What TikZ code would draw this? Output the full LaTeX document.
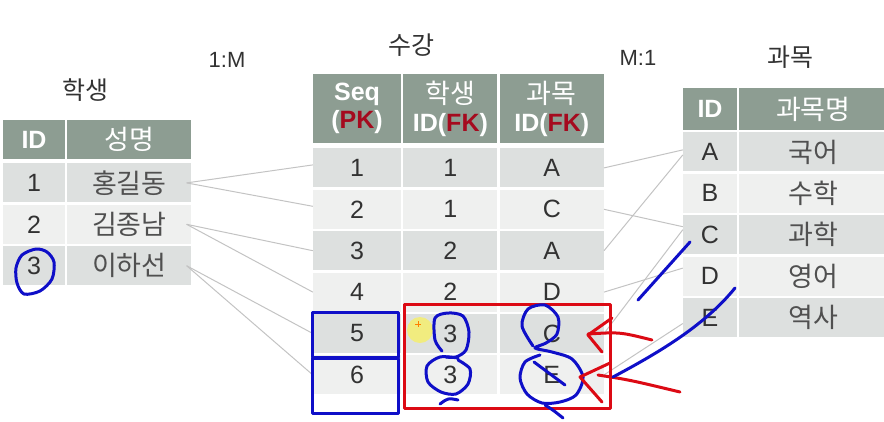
\documentclass[tikz,border=0pt]{standalone}
\usepackage{fontspec}
\setmainfont{Liberation Sans}
\newfontfamily\kr{Noto Sans CJK KR}
\usetikzlibrary{positioning}
\definecolor{hdgray}{RGB}{141,157,146}
\definecolor{rowdark}{RGB}{221,224,223}
\definecolor{rowlight}{RGB}{239,240,239}
\definecolor{txtgray}{RGB}{50,50,50}
\definecolor{krgray}{RGB}{80,80,80}
\definecolor{linegray}{RGB}{195,195,195}
\definecolor{pkred}{RGB}{165,10,30}
\definecolor{penblue}{RGB}{15,15,200}
\definecolor{penred}{RGB}{220,10,20}
\tikzstyle{cell} = [rectangle, inner sep=0pt, text centered, text=txtgray, font=\fontsize{25}{28}\selectfont]
\tikzstyle{hd} = [cell, fill=hdgray, text=white, align=center, font=\fontsize{25}{28}\selectfont\bfseries]
\tikzstyle{dk} = [cell, fill=rowdark]
\tikzstyle{lt} = [cell, fill=rowlight]
\tikzstyle{title} = [text=txtgray, font=\kr\fontsize{25}{28}\selectfont]
\tikzstyle{ratio} = [text=txtgray, font=\fontsize{22}{24}\selectfont]
\tikzstyle{link} = [draw=linegray, line width=1pt]
\tikzstyle{pen} = [line width=3pt, line cap=round, line join=round]
\newcommand{\hangul}[1]{{\kr\mdseries\fontsize{27}{28}\selectfont #1}}

\begin{document}
\begin{tikzpicture}[x=1pt, y=-1pt]
\useasboundingbox (0,0) rectangle (884,421);

% 학생 table
\node (ttlstu) [title] at (85,90) {학생};
\node (sid) [hd, minimum width=62, minimum height=39] at (34,139.5) {ID};
\node (sname) [hd, minimum width=124, minimum height=39, right=2pt of sid] {\hangul{성명}};
\node (s1) [dk, minimum width=62, minimum height=39, below=4pt of sid] {1};
\node (s1n) [dk, minimum width=124, minimum height=39, right=2pt of s1, text=krgray] {\hangul{홍길동}};
\node (s2) [lt, minimum width=62, minimum height=39, below=2pt of s1] {2};
\node (s2n) [lt, minimum width=124, minimum height=39, right=2pt of s2, text=krgray] {\hangul{김종남}};
\node (s3) [dk, minimum width=62, minimum height=39, below=2pt of s2] {3};
\node (s3n) [dk, minimum width=124, minimum height=39, right=2pt of s3, text=krgray] {\hangul{이하선}};

% 수강 table
\node (ttlenr) [title] at (411,45) {수강};
\node (eseq) [hd, minimum width=88, minimum height=69] at (357,108.5) {Seq\\(\textcolor{pkred}{PK})};
\node (estu) [hd, minimum width=94, minimum height=69, right=2pt of eseq] {\hangul{학생}\\ID(\textcolor{pkred}{FK})};
\node (esub) [hd, minimum width=104, minimum height=69, right=2pt of estu] {\hangul{과목}\\ID(\textcolor{pkred}{FK})};
\node (r1seq) [dk, minimum width=88, minimum height=39, below=5pt of eseq] {1};
\node (r1stu) [dk, minimum width=94, minimum height=39, right=2pt of r1seq] {1};
\node (r1sub) [dk, minimum width=104, minimum height=39, right=2pt of r1stu] {A};
\node (r2seq) [lt, minimum width=88, minimum height=39, below=2pt of r1seq] {2};
\node (r2stu) [lt, minimum width=94, minimum height=39, right=2pt of r2seq] {1};
\node (r2sub) [lt, minimum width=104, minimum height=39, right=2pt of r2stu] {C};
\node (r3seq) [dk, minimum width=88, minimum height=39, below=2pt of r2seq] {3};
\node (r3stu) [dk, minimum width=94, minimum height=39, right=2pt of r3seq] {2};
\node (r3sub) [dk, minimum width=104, minimum height=39, right=2pt of r3stu] {A};
\node (r4seq) [lt, minimum width=88, minimum height=39, below=2pt of r3seq] {4};
\node (r4stu) [lt, minimum width=94, minimum height=39, right=2pt of r4seq] {2};
\node (r4sub) [lt, minimum width=104, minimum height=39, right=2pt of r4stu] {D};
\node (r5seq) [dk, minimum width=88, minimum height=39, below=2pt of r4seq] {5};
\node (r5stu) [dk, minimum width=94, minimum height=39, right=2pt of r5seq] {3};
\node (r5sub) [dk, minimum width=104, minimum height=39, right=2pt of r5stu] {C};
\node (r6seq) [lt, minimum width=88, minimum height=39, below=2pt of r5seq] {6};
\node (r6stu) [lt, minimum width=94, minimum height=39, right=2pt of r6seq] {3};
\node (r6sub) [lt, minimum width=104, minimum height=39, right=2pt of r6stu] {E};

% 과목 table
\node (ttlsub) [title] at (790,57) {과목};
\node (cid) [hd, minimum width=54, minimum height=42] at (710,109) {ID};
\node (cname) [hd, minimum width=148, minimum height=42, right=2pt of cid] {\hangul{과목명}};
\node (cA) [dk, minimum width=54, minimum height=39, below=2pt of cid] {A};
\node (cAn) [dk, minimum width=148, minimum height=39, right=2pt of cA, text=krgray] {\hangul{국어}};
\node (cB) [lt, minimum width=54, minimum height=39, below=2pt of cA] {B};
\node (cBn) [lt, minimum width=148, minimum height=39, right=2pt of cB, text=krgray] {\hangul{수학}};
\node (cC) [dk, minimum width=54, minimum height=39, below=2pt of cB] {C};
\node (cCn) [dk, minimum width=148, minimum height=39, right=2pt of cC, text=krgray] {\hangul{과학}};
\node (cD) [lt, minimum width=54, minimum height=39, below=2pt of cC] {D};
\node (cDn) [lt, minimum width=148, minimum height=39, right=2pt of cD, text=krgray] {\hangul{영어}};
\node (cE) [dk, minimum width=54, minimum height=39, below=2pt of cD] {E};
\node (cEn) [dk, minimum width=148, minimum height=39, right=2pt of cE, text=krgray] {\hangul{역사}};

\node (onem) [ratio] at (227,60) {1:M};
\node (mone) [ratio] at (638,58) {M:1};

% relation lines
\draw [link] ([xshift=-5pt]s1n.east) -- ([yshift=3pt]r1seq.west);
\draw [link] ([xshift=-5pt]s1n.east) -- ([yshift=3pt]r2seq.west);
\draw [link] ([xshift=-5pt]s2n.east) -- (r3seq.west);
\draw [link] ([xshift=-5pt]s2n.east) -- (r4seq.west);
\draw [link] ([xshift=-5pt]s3n.east) -- (r5seq.west);
\draw [link] ([xshift=-5pt]s3n.east) -- (r6seq.west);
\draw [link] (r1sub.east) -- ([yshift=2pt]cA.west);
\draw [link] (r2sub.east) -- ([yshift=8pt]cC.west);
\draw [link] (r3sub.east) -- ([yshift=-3pt]cA.west);
\draw [link] (r4sub.east) -- ([yshift=8pt]cD.west);
\draw [link] (r5sub.east) -- ([yshift=5pt]cC.west);
\draw [link] (r6sub.east) -- ([yshift=-6pt]cE.west);

% pointer
\fill [yellow!75, opacity=0.6] (420,330) circle (13);
\draw [orange, line width=1pt] (415,324) -- (421,324) (418,321) -- (418,327);

% pen marks
\draw [pen, penblue] plot [smooth cycle] coordinates {(36,249) (22,255) (16,268) (17,283) (24,294) (40,291) (52,279) (54,262) (47,252)};
\draw [pen, penblue] (312,312) rectangle (398,357);
\draw [pen, penblue] (312,358) rectangle (398,413);
\draw [pen, penred] (404,304) rectangle (610,408);
\draw [pen, penblue] plot [smooth] coordinates {(442,351) (435,340) (435,318) (448,313) (463,316) (469,332) (466,350) (456,357) (446,357)};
\draw [pen, penblue] plot [smooth] coordinates {(458,358) (440,357) (427,366) (428,382) (441,392) (456,394) (468,384) (470,369) (458,360)};
\draw [pen, penblue] (440,404) .. controls (448,398) .. (458,400);
\draw [pen, penblue] plot [smooth] coordinates {(533,346) (522,326) (528,309) (545,305) (558,317) (557,334) (546,343) (535,348) (552,352) (572,359) (583,377) (576,395) (560,402) (542,403) (527,394) (520,378) (525,362) (540,355)};
\draw [pen, penblue] (534,362) -- (565,385);
\draw [pen, penblue] (545,405) .. controls (553,410) .. (563,418);
\draw [pen, penred] (612,318) -- (588,335) -- (602,352);
\draw [pen, penred] (588,334) .. controls (620,332) .. (652,340);
\draw [pen, penred] (610,363) -- (580,377) -- (602,402);
\draw [pen, penred] (598,375) .. controls (630,380) .. (680,392);
\draw [pen, penblue] (638,300) -- (690,242);
\draw [pen, penblue] (735,288) .. controls (705,325) and (660,352) .. (613,377);
\end{tikzpicture}
\end{document}
